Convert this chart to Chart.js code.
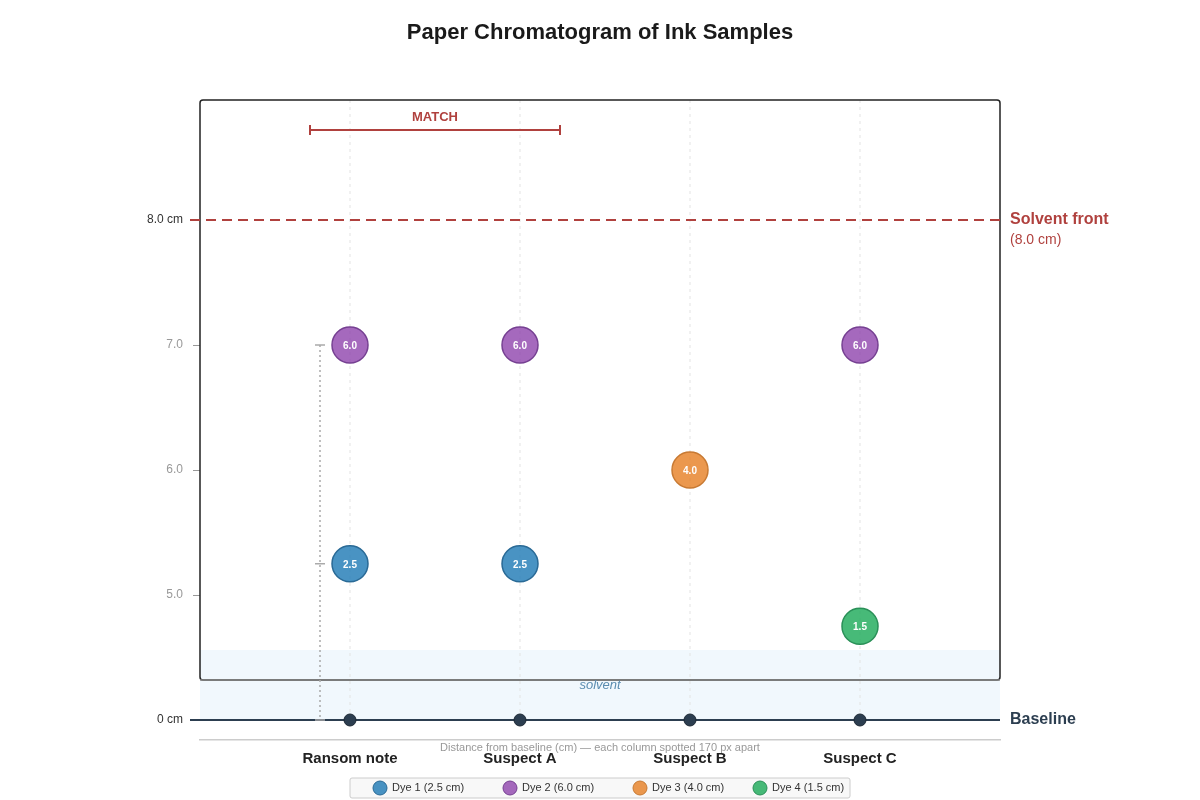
<!DOCTYPE html>
<html lang="en">
<head>
<meta charset="UTF-8">
<title>Paper Chromatogram of Ink Samples</title>
<script src="https://cdn.jsdelivr.net/npm/chart.js"></script>
<style>
  body { margin: 0; background: #fff; font-family: 'Liberation Sans', Arial, sans-serif; }
  #wrap { width: 1200px; height: 800px; }
</style>
</head>
<body>
<div id="wrap"><canvas id="chroma"></canvas></div>
<script>
// samples spotted along the baseline
const samples = ['Ransom note', 'Suspect A', 'Suspect B', 'Suspect C'];
// distance travelled from baseline (cm), null = dye absent
const dye1 = [2.5, 2.5, null, null];
const dye2 = [6.0, 6.0, null, 6.0];
const dye3 = [null, null, 4.0, null];
const dye4 = [null, null, null, 1.5];
const dyeNames = ['Dye 1 (2.5 cm)', 'Dye 2 (6.0 cm)', 'Dye 3 (4.0 cm)', 'Dye 4 (1.5 cm)'];
const solventFront = 8.0;
// axis tick labels: drawn position -> text
const yTicks = [4, 5, 6, 7, 8];
const yTickLabels = { 4: '0 cm', 5: '5.0', 6: '6.0', 7: '7.0', 8: '8.0 cm' };

// plotted height: baseline sits at 4, then half a unit per cm
const toY = v => 4 + v / 2;

const dyeFill = ['rgba(41,128,185,0.85)', 'rgba(142,68,173,0.8)', 'rgba(230,126,34,0.8)', 'rgba(39,174,96,0.85)'];
const dyeEdge = ['#2a6a96', '#764092', '#c87a33', '#2a9058'];

function pts(arr) {
  return arr.map((v, i) => v == null ? null : { x: i, y: toY(v), v: v }).filter(p => p);
}

const datasets = [dye1, dye2, dye3, dye4].map((arr, k) => ({
  label: dyeNames[k],
  data: pts(arr),
  backgroundColor: dyeFill[k],
  borderColor: dyeEdge[k],
  borderWidth: 1.5,
  pointRadius: 18,
  pointHoverRadius: 18
}));
datasets.unshift({
  label: 'origin',
  data: samples.map((s, i) => ({ x: i, y: toY(0) })),
  backgroundColor: '#2c3e50',
  borderColor: '#1c2833',
  borderWidth: 1,
  pointRadius: 6
});

const decor = {
  id: 'decor',
  beforeDatasetsDraw(chart) {
    const c = chart.ctx, xs = chart.scales.x, ys = chart.scales.y, a = chart.chartArea;
    const yBase = ys.getPixelForValue(toY(0));
    const yFront = ys.getPixelForValue(toY(solventFront) - 4 + 4) ;
    c.save();
    // solvent band
    c.fillStyle = 'rgba(214,234,248,0.35)';
    c.fillRect(a.left, yBase - 70, a.right - a.left, 70);
    // column guide lines
    c.strokeStyle = '#e3e3e3'; c.lineWidth = 1; c.setLineDash([3, 4]);
    samples.forEach((s, i) => {
      const x = xs.getPixelForValue(i);
      c.beginPath(); c.moveTo(x, a.top); c.lineTo(x, yBase); c.stroke();
    });
    c.setLineDash([]);
    // paper box
    c.strokeStyle = '#222'; c.lineWidth = 1.5;
    c.beginPath(); c.roundRect(a.left, a.top, a.right - a.left, 580, 3); c.stroke();
    c.strokeStyle = '#888'; c.lineWidth = 1.5;
    c.beginPath(); c.moveTo(a.left, a.top + 580); c.lineTo(a.right, a.top + 580); c.stroke();
    // solvent text
    c.fillStyle = '#5b8db0'; c.font = 'italic 13px "Liberation Sans", Arial';
    c.textAlign = 'center'; c.textBaseline = 'middle';
    c.fillText('solvent', 600, yBase - 35);
    // solvent front
    const yF = ys.getPixelForValue(8);
    c.strokeStyle = '#b0413e'; c.lineWidth = 2; c.setLineDash([10, 6]);
    c.beginPath(); c.moveTo(a.left - 10, yF); c.lineTo(a.right, yF); c.stroke();
    c.setLineDash([]);
    c.fillStyle = '#b0413e'; c.textAlign = 'left';
    c.font = 'bold 16px "Liberation Sans", Arial';
    c.fillText('Solvent front', a.right + 10, yF);
    c.font = '14px "Liberation Sans", Arial';
    c.fillText('(' + solventFront.toFixed(1) + ' cm)', a.right + 10, yF + 20);
    // baseline
    c.strokeStyle = '#2c3e50'; c.lineWidth = 2;
    c.beginPath(); c.moveTo(a.left - 10, yBase); c.lineTo(a.right, yBase); c.stroke();
    c.fillStyle = '#2c3e50'; c.font = 'bold 16px "Liberation Sans", Arial';
    c.fillText('Baseline', a.right + 10, yBase);
    // measurement line for dye 2 / dye 1
    const mx = xs.getPixelForValue(0) - 30;
    const yTop = ys.getPixelForValue(toY(dye2[0])), yMid = ys.getPixelForValue(toY(dye1[0]));
    c.strokeStyle = '#aaa'; c.lineWidth = 1.5; c.setLineDash([2, 3]);
    c.beginPath(); c.moveTo(mx, yTop); c.lineTo(mx, yBase); c.stroke();
    c.setLineDash([]);
    [yTop, yMid, yBase].forEach(y => { c.beginPath(); c.moveTo(mx - 5, y); c.lineTo(mx + 5, y); c.stroke(); });
    // MATCH bracket
    const bx0 = xs.getPixelForValue(0) - 40, bx1 = xs.getPixelForValue(1) + 40, by = a.top + 30;
    c.strokeStyle = '#b0413e'; c.lineWidth = 2;
    c.beginPath(); c.moveTo(bx0, by); c.lineTo(bx1, by);
    c.moveTo(bx0, by - 5); c.lineTo(bx0, by + 5); c.moveTo(bx1, by - 5); c.lineTo(bx1, by + 5); c.stroke();
    c.fillStyle = '#b0413e'; c.font = 'bold 13px "Liberation Sans", Arial'; c.textAlign = 'center';
    c.fillText('MATCH', (bx0 + bx1) / 2, by - 13);
    c.restore();
  },
  afterDraw(chart) {
    const c = chart.ctx;
    c.save();
    // values on spots
    c.fillStyle = '#fff'; c.font = 'bold 10px "Liberation Sans", Arial';
    c.textAlign = 'center'; c.textBaseline = 'middle';
    chart.data.datasets.forEach((ds, di) => {
      if (di === 0) return;
      chart.getDatasetMeta(di).data.forEach((el, j) => {
        c.fillText(ds.data[j].v.toFixed(1), el.x, el.y + 1);
      });
    });
    // title
    c.fillStyle = '#1a1a1a'; c.font = 'bold 22px "Liberation Sans", Arial';
    c.fillText('Paper Chromatogram of Ink Samples', 600, 33);
    // caption
    c.fillStyle = '#999'; c.font = '11px "Liberation Sans", Arial';
    c.fillText('Distance from baseline (cm) \u2014 each column spotted 170 px apart', 600, 748);
    // legend
    c.fillStyle = '#f8f8f8'; c.strokeStyle = '#ccc'; c.lineWidth = 1;
    c.beginPath(); c.roundRect(350, 778, 500, 20, 2); c.fill(); c.stroke();
    const lx = [380, 510, 640, 760];
    dyeNames.forEach((n, k) => {
      c.fillStyle = dyeFill[k]; c.strokeStyle = dyeEdge[k];
      c.beginPath(); c.arc(lx[k], 788, 7, 0, Math.PI * 2); c.fill(); c.stroke();
      c.fillStyle = '#333'; c.font = '11px "Liberation Sans", Arial'; c.textAlign = 'left';
      c.fillText(n, lx[k] + 12, 788);
    });
    c.restore();
  }
};

new Chart(document.getElementById('chroma'), {
  type: 'scatter',
  data: { datasets: datasets },
  options: {
    responsive: true,
    maintainAspectRatio: false,
    animation: false,
    layout: { padding: { top: 100, right: 200, left: 0, bottom: 0 } },
    plugins: { legend: { display: false }, tooltip: { enabled: false } },
    scales: {
      x: {
        type: 'linear',
        min: -150 / 170, max: 650 / 170,
        afterFit: s => { s.height = 60; },
        afterBuildTicks: s => { s.ticks = samples.map((n, i) => ({ value: i })); },
        ticks: {
          autoSkip: false, padding: 2,
          callback: v => samples[v],
          color: '#222', font: { size: 15, weight: 'bold', family: 'Liberation Sans' }
        },
        grid: { display: false },
        border: { display: true, color: '#ccc', width: 1.5 }
      },
      y: {
        min: 3.84, max: 8.96,
        afterFit: s => { s.width = 200; },
        afterBuildTicks: s => { s.ticks = yTicks.map(v => ({ value: v })); },
        ticks: {
          callback: v => yTickLabels[v],
          color: ctx => (ctx.tick.value === 4 || ctx.tick.value === 8) ? '#333' : '#999',
          font: { size: 12, family: 'Liberation Sans' }, padding: 10
        },
        grid: { drawOnChartArea: false, tickLength: 7, color: '#999' },
        border: { display: false }
      }
    }
  },
  plugins: [decor]
});
</script>
</body>
</html>
